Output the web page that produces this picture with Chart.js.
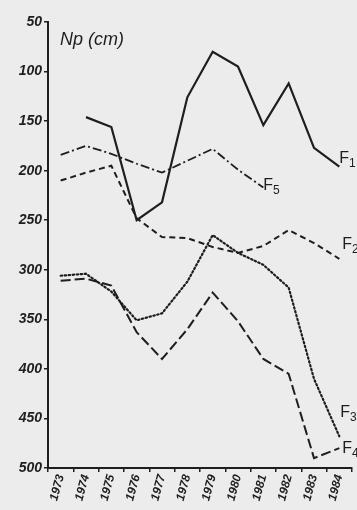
<!DOCTYPE html>
<html><head><meta charset="utf-8">
<script src="https://cdn.jsdelivr.net/npm/chart.js@4.4.1/dist/chart.umd.min.js"></script>
<style>html,body{margin:0;padding:0;background:#ececec;}#wrap{width:357px;height:510px;position:relative;}</style>
</head><body><div id="wrap"><canvas id="c" width="357" height="510"></canvas></div>
<script>
const years = ['1973','1974','1975','1976','1977','1978','1979','1980','1981','1982','1983','1984'];
const F1 = [null,146,156,250,232,126,80,95,154,112,177,196];
const F2 = [210,202,195,248,267,268,277,283,276,260,273,289];
const F3 = [306,304,322,351,344,312,265,283,295,318,410,468];
const F4 = [311,309,316,363,390,360,323,352,390,405,490,480];
const F5 = [184,175,183,193,202,190,178,199,217,null,null,null];
const yTicks = [50,100,150,200,250,300,350,400,450,500];
const seriesNames = ['F1','F2','F3','F4','F5'];
const yTitle = 'Np (cm)';

const ink = '#1e1e1e';
const labelOffsets = {F1:[0,-12],F2:[3,-18],F3:[1,-27],F4:[3,-3],F5:[0,-6]};

const labelPlugin = {
  id:'seriesLabels',
  afterDatasetsDraw(chart){
    const ctx = chart.ctx;
    ctx.save();
    ctx.fillStyle = ink;
    chart.data.datasets.forEach((ds,i)=>{
      const meta = chart.getDatasetMeta(i);
      let last = -1;
      ds.data.forEach((v,j)=>{ if(v!==null) last=j; });
      const pt = meta.data[last];
      const off = labelOffsets[ds.label];
      const x = pt.x + off[0], y = pt.y + off[1];
      ctx.font = '16px "Liberation Sans", sans-serif';
      ctx.textBaseline = 'alphabetic';
      ctx.textAlign = 'left';
      ctx.fillText('F', x, y+8);
      const w = ctx.measureText('F').width;
      ctx.font = '12px "Liberation Sans", sans-serif';
      ctx.fillText(ds.label.slice(1), x+w, y+12);
    });
    const ca = chart.chartArea;
    ctx.font = 'italic 18px "Liberation Sans", sans-serif';
    ctx.textBaseline = 'top';
    ctx.fillText(yTitle, ca.left+12, ca.top+9);
    ctx.restore();
  }
};

const styles = {
  F1:{borderWidth:2.2, borderDash:[]},
  F2:{borderWidth:2, borderDash:[6,4]},
  F3:{borderWidth:2.2, borderDash:[1.5,2.5]},
  F4:{borderWidth:2, borderDash:[10,4]},
  F5:{borderWidth:1.8, borderDash:[9,3,2,3]}
};
const seriesData = {F1,F2,F3,F4,F5};

new Chart(document.getElementById('c'), {
  type:'line',
  data:{
    labels: years,
    datasets: seriesNames.map(n=>({
      label:n, data:seriesData[n], borderColor:ink, backgroundColor:ink,
      borderWidth:styles[n].borderWidth, borderDash:styles[n].borderDash,
      pointRadius:0, tension:0, fill:false, spanGaps:false,
      borderCapStyle: n==='F3' ? 'round' : 'butt'
    }))
  },
  options:{
    responsive:false, animation:false,
    layout:{padding:{top:22,right:5,left:0,bottom:0}},
    plugins:{legend:{display:false}, tooltip:{enabled:false}, title:{display:false}},
    scales:{
      x:{
        offset:true,
        grid:{display:true, drawOnChartArea:false, offset:true, tickLength:4, color:ink, lineWidth:1.5},
        border:{display:true, color:ink, width:2},
        ticks:{color:ink, maxRotation:75, minRotation:75, autoSkip:false, padding:1,
          font:{family:'"Liberation Sans", sans-serif', size:12, style:'italic', weight:'bold'}},
        afterFit(s){ s.height = 42; s.paddingLeft=0; s.paddingRight=0; }
      },
      y:{
        reverse:true, min:50, max:500,
        afterBuildTicks(s){ s.ticks = yTicks.map(v=>({value:v})); },
        grid:{display:true, drawOnChartArea:false, tickLength:4, color:ink, lineWidth:1.5},
        border:{display:true, color:ink, width:2},
        ticks:{color:ink, padding:2,
          font:{family:'"Liberation Sans", sans-serif', size:14, style:'italic', weight:'bold'}},
        afterFit(s){ s.width = 48; s.paddingTop=0; s.paddingBottom=0; }
      }
    }
  },
  plugins:[labelPlugin]
});
</script></body></html>
